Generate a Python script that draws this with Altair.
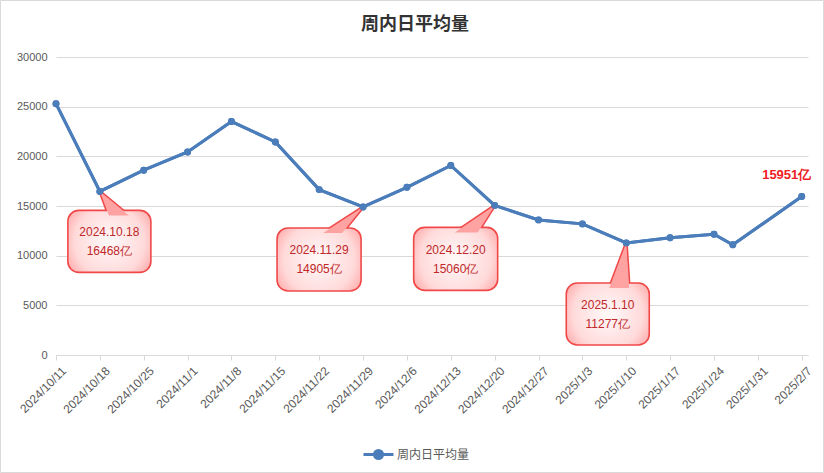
import altair as alt
import pandas as pd
from datetime import datetime, timezone

# ---------------- data ----------------
dates = ["2024/10/11", "2024/10/18", "2024/10/25", "2024/11/1", "2024/11/8",
         "2024/11/15", "2024/11/22", "2024/11/29", "2024/12/6", "2024/12/13",
         "2024/12/20", "2024/12/27", "2025/1/3", "2025/1/10", "2025/1/17",
         "2025/1/24", "2025/1/27", "2025/2/7"]
values = [25300, 16468, 18600, 20440, 23500, 21450, 16650, 14905, 16880, 19080,
          15060, 13600, 13200, 11277, 11800, 12150, 11100, 15951]
series_name = "周内日平均量"

tick_dates = ["2024/10/11", "2024/10/18", "2024/10/25", "2024/11/1", "2024/11/8",
              "2024/11/15", "2024/11/22", "2024/11/29", "2024/12/6", "2024/12/13",
              "2024/12/20", "2024/12/27", "2025/1/3", "2025/1/10", "2025/1/17",
              "2025/1/24", "2025/1/31", "2025/2/7"]
y_ticks = [0, 5000, 10000, 15000, 20000, 25000, 30000]

ann_dates = ["2024/10/18", "2024/11/29", "2024/12/20", "2025/1/10"]
ann_values = [16468, 14905, 15060, 11277]
ann_line1 = ["2024.10.18", "2024.11.29", "2024.12.20", "2025.1.10"]
ann_line2 = ["16468亿", "14905亿", "15060亿", "11277亿"]

last_label = ["15951亿"]
last_date = ["2025/2/7"]
last_value = [15951]

# ---------------- helpers / layout ----------------
def ms(s):
    y, m, d = map(int, s.split("/"))
    return datetime(y, m, d, tzinfo=timezone.utc).timestamp() * 1000

DAY = 86400000.0
X_START = ms("2024/10/11")
X_END = ms("2025/2/8")
W, H = 752, 298
YMAX = 30000
PX_DAY = W / ((X_END - X_START) / DAY)
PX_VAL = H / YMAX

def dxp(px):
    return px / PX_DAY * DAY

def dvp(px):
    return px / PX_VAL

# callout geometry in pixels relative to the annotated point
layout = [
    dict(left=-32, right=51, top=19, bottom=81, bl=9, br=29),
    dict(left=-86, right=-2, top=21, bottom=84, bl=-40, br=-21),
    dict(left=-81, right=3, top=22, bottom=85, bl=-40, br=-17),
    dict(left=-60, right=23, top=40, bottom=102, bl=-17, br=3),
]

df = pd.DataFrame({"x": [ms(d) for d in dates], "value": values,
                   "series": [series_name] * len(dates)})

box_rows, tri_rows = [], []
for k, (d, v, l1, l2, g) in enumerate(zip(ann_dates, ann_values, ann_line1, ann_line2, layout)):
    px = ms(d)
    bx1, bx2 = px + dxp(g["left"]), px + dxp(g["right"])
    by1, by2 = v - dvp(g["top"]), v - dvp(g["bottom"])
    box_rows.append(dict(x=bx1, x2=bx2, y=by1, y2=by2, xc=(bx1 + bx2) / 2,
                         yc=(by1 + by2) / 2, l1=l1, l2=l2))
    yb = v - dvp(g["top"] + 5)
    pts = sorted([(px, v), (px + dxp(g["bl"]), yb), (px + dxp(g["br"]), yb)],
                 key=lambda p: p[0])
    (xa, ya), (xm, ym), (xz, yz) = pts
    yo = ya + (yz - ya) * (xm - xa) / (xz - xa)
    tri_rows += [dict(id=k, x=xa, lo=ya, hi=ya),
                 dict(id=k, x=xm, lo=min(ym, yo), hi=max(ym, yo)),
                 dict(id=k, x=xz, lo=yz, hi=yz)]

boxes = pd.DataFrame(box_rows)
tris = pd.DataFrame(tri_rows)
lastdf = pd.DataFrame({"x": [ms(d) for d in last_date], "value": last_value,
                       "label": last_label})

# ---------------- styles ----------------
BLUE = "#4a7dba"
GRID = "#d9d9d9"
LABEL = "#595959"
RED_EDGE = "#f04848"
RED_TEXT = "#c0282a"
FONT = "Liberation Sans"

xscale = alt.Scale(type="utc", domain=[X_START, X_END])
yscale = alt.Scale(domain=[0, YMAX], nice=False)

x_axis = alt.Axis(values=[ms(t) for t in tick_dates], format="%Y/%-m/%-d",
                  labelAngle=315, labelAlign="right", labelBaseline="top",
                  title=None)
y_axis = alt.Axis(values=y_ticks, format="d", title=None)

X = alt.X("x:T", scale=xscale, axis=x_axis)
Y = alt.Y("value:Q", scale=yscale, axis=y_axis)

gradient = alt.RadialGradient(
    gradient="radial", x1=0.5, y1=0.5, x2=0.5, y2=0.5, r1=0.05, r2=0.72,
    stops=[alt.GradientStop(offset=0, color="#fff6f6"),
           alt.GradientStop(offset=0.55, color="#ffdada"),
           alt.GradientStop(offset=1, color="#ff8a8a")])

ox = alt.X("x:T", scale=xscale, title=None)

tri_back = alt.Chart(tris).mark_area(fill="#ff9a9a", stroke=RED_EDGE, strokeWidth=3).encode(
    x=ox, y=alt.Y("lo:Q", scale=yscale, title=None), y2="hi:Q", detail="id:N")

box = alt.Chart(boxes).mark_rect(cornerRadius=11, fill=gradient, stroke=RED_EDGE,
                                 strokeWidth=1.6).encode(
    x=ox, x2="x2:T", y=alt.Y("y:Q", scale=yscale, title=None), y2="y2:Q")

tri_front = alt.Chart(tris).mark_area(fill="#ffa2a2").encode(
    x=ox, y=alt.Y("lo:Q", scale=yscale, title=None), y2="hi:Q", detail="id:N")

txt1 = alt.Chart(boxes).mark_text(font=FONT, fontSize=12, color=RED_TEXT, dy=-9).encode(
    x=alt.X("xc:T", scale=xscale, title=None),
    y=alt.Y("yc:Q", scale=yscale, title=None), text="l1:N")
txt2 = alt.Chart(boxes).mark_text(font=FONT, fontSize=12, color=RED_TEXT, dy=10).encode(
    x=alt.X("xc:T", scale=xscale, title=None),
    y=alt.Y("yc:Q", scale=yscale, title=None), text="l2:N")

legend_path = ("M-1,0L1,0M0.27,0A0.27,0.27,0,1,1,-0.27,0"
               "A0.27,0.27,0,1,1,0.27,0Z")

line = alt.Chart(df).mark_line(strokeWidth=3, point=alt.OverlayMarkDef(
    filled=True, size=48, opacity=1)).encode(
    x=X, y=Y,
    color=alt.Color("series:N", scale=alt.Scale(range=[BLUE]),
                    legend=alt.Legend(
                        title=None, orient="none", legendX=306, legendY=381,
                        symbolType=legend_path, symbolSize=900,
                        symbolStrokeWidth=3, symbolFillColor=BLUE,
                        symbolStrokeColor=BLUE, labelFont="Noto Sans CJK SC",
                        labelFontSize=12, labelColor=LABEL, labelOffset=2,
                        padding=0)))

last_txt = alt.Chart(lastdf).mark_text(font=FONT, fontSize=13, fontWeight="bold",
                                       color="#ee1c25", dx=-15, dy=-22).encode(
    x=alt.X("x:T", scale=xscale, title=None),
    y=alt.Y("value:Q", scale=yscale, title=None), text="label:N")

border = alt.Chart(alt.Data(values=[{}])).mark_rect(
    fill="transparent", stroke="#d9d9d9", strokeWidth=1).encode(
    x=alt.value(-55.5), x2=alt.value(767.5), y=alt.value(-56.5), y2=alt.value(415.5))

chart = alt.layer(line, border, tri_back, box, tri_front, txt1, txt2, line, last_txt).properties(
    width=W, height=H, background="white",
    title=alt.TitleParams(series_name, font="Noto Sans CJK SC", fontSize=18,
                          fontWeight="bold", color="#333333", anchor="middle",
                          frame="group", baseline="bottom", dx=-17, offset=-52),
    autosize=alt.AutoSizeParams(type="none"),
    padding={"left": 56, "top": 57, "right": 16, "bottom": 118},
).configure_view(
    strokeWidth=0, stroke="transparent"
).configure_axis(
    labelFont=FONT, labelFontSize=11, labelColor=LABEL, gridColor=GRID,
    domainColor=GRID, tickColor=GRID
).configure_axisX(
    grid=False, tickSize=5, labelFontSize=12, labelPadding=5, labelOffset=4,
    labelOverlap=False, labelFlush=False
).configure_axisY(
    domain=False, ticks=False, labelPadding=9, grid=True
)

chart.save("out.html", embed_options={"renderer": "svg", "actions": False})
